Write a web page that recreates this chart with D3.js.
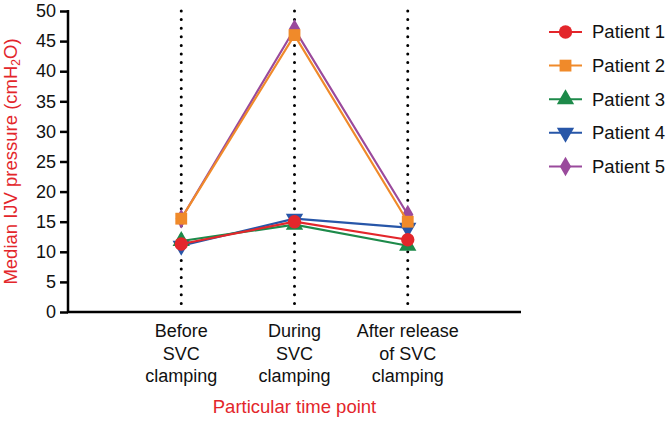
<!DOCTYPE html>
<html>
<head>
<meta charset="utf-8">
<script src="https://cdn.jsdelivr.net/npm/d3@7"></script>
<style>
  body { margin: 0; background: #fff; }
  text { font-family: "Liberation Sans", Arial, sans-serif; }
</style>
</head>
<body>
<div id="chart"></div>
<script>
// time points and series
var timePoints = ["Before\nSVC\nclamping", "During\nSVC\nclamping", "After release\nof SVC\nclamping"];
var patients = ["Patient 1", "Patient 2", "Patient 3", "Patient 4", "Patient 5"];
var patient1 = [11.3, 15.0, 12.0];
var patient2 = [15.5, 46.0, 15.0];
var patient3 = [11.8, 14.5, 11.0];
var patient4 = [11.0, 15.5, 14.0];
var patient5 = [15.5, 47.0, 16.2];
var yTicks = [0, 5, 10, 15, 20, 25, 30, 35, 40, 45, 50];

var seriesValues = [patient1, patient2, patient3, patient4, patient5];
var colors = ["#e3262b", "#f08a2a", "#1d8a4a", "#2756a8", "#9a4a9c"];
var symbols = [d3.symbolCircle, d3.symbolSquare, d3.symbolTriangle, d3.symbolTriangle, d3.symbolDiamond];
var symbolSizes = [140, 140, 130, 130, 110];
var symbolRot = [0, 0, 0, 180, 0];

var width = 668, height = 421;
var margins = { left: 68, right: 147, top: 11, bottom: 109 };

var svg = d3.select("#chart").append("svg")
  .attr("width", width)
  .attr("height", height);

// x: points 1..3 on a 0..4 span
var xScale = d3.scaleLinear().domain([0, 4]).range([margins.left, width - margins.right]);
var yScale = d3.scaleLinear().domain([0, 50]).range([height - margins.bottom, margins.top]);

// dotted verticals
svg.selectAll("line.vdot")
  .data(timePoints)
  .enter()
  .append("line")
  .attr("class", "vdot")
  .attr("x1", function (d, i) { return xScale(i + 1); })
  .attr("x2", function (d, i) { return xScale(i + 1); })
  .attr("y1", yScale(50))
  .attr("y2", yScale(0))
  .attr("stroke", "#000")
  .attr("stroke-width", 3)
  .attr("stroke-linecap", "round")
  .attr("stroke-dasharray", "0 8.6");

// y axis
var yAxis = d3.axisLeft(yScale).tickValues(yTicks).tickSize(8).tickPadding(4);
var gy = svg.append("g")
  .attr("transform", "translate(" + margins.left + ",0)")
  .call(yAxis);
gy.select(".domain").attr("stroke-width", 2.5).attr("d", "M0," + (yScale(50) - 1) + "V" + (yScale(0) + 1));
gy.selectAll(".tick line").attr("stroke-width", 2.5);
gy.selectAll(".tick text").attr("font-size", 18).attr("fill", "#111")
  .style("font-family", "'Liberation Sans', Arial, sans-serif");

// x axis line
svg.append("line")
  .attr("x1", margins.left - 1)
  .attr("x2", xScale(4))
  .attr("y1", yScale(0))
  .attr("y2", yScale(0))
  .attr("stroke", "#000")
  .attr("stroke-width", 2.5);

// x category labels
var xl = svg.selectAll("text.xlab")
  .data(timePoints)
  .enter()
  .append("text")
  .attr("class", "xlab")
  .attr("text-anchor", "middle")
  .attr("font-size", 18)
  .attr("fill", "#111")
  .attr("transform", function (d, i) { return "translate(" + xScale(i + 1) + "," + (yScale(0) + 25) + ")"; });
xl.selectAll("tspan")
  .data(function (d) { return d.split("\n"); })
  .enter()
  .append("tspan")
  .attr("x", 0)
  .attr("y", function (d, i) { return i * 22.5; })
  .text(function (d) { return d; });

// axis titles
svg.append("text")
  .attr("x", (xScale(0) + xScale(4)) / 2)
  .attr("y", 413)
  .attr("text-anchor", "middle")
  .attr("font-size", 18.5)
  .attr("fill", "#e3262b")
  .text("Particular time point");

var yt = svg.append("text")
  .attr("transform", "translate(17," + ((yScale(0) + yScale(50)) / 2) + ") rotate(-90)")
  .attr("text-anchor", "middle")
  .attr("font-size", 18.5)
  .attr("fill", "#e3262b");
yt.append("tspan").text("Median IJV pressure (cmH");
yt.append("tspan").attr("font-size", 12).attr("baseline-shift", "-25%").text("2");
yt.append("tspan").text("O)");

// series, drawn last-to-first so patient 1 sits on top
var order = [4, 3, 2, 1, 0];
var line = d3.line()
  .x(function (d, i) { return xScale(i + 1); })
  .y(function (d) { return yScale(d); });

order.forEach(function (k) {
  var g = svg.append("g");
  g.append("path")
    .attr("d", line(seriesValues[k]))
    .attr("fill", "none")
    .attr("stroke", colors[k])
    .attr("stroke-width", 2.2);
  g.selectAll("path.pt")
    .data(seriesValues[k])
    .enter()
    .append("path")
    .attr("class", "pt")
    .attr("d", d3.symbol().type(symbols[k]).size(symbolSizes[k]))
    .attr("fill", colors[k])
    .attr("transform", function (d, i) {
      return "translate(" + xScale(i + 1) + "," + yScale(d) + ") rotate(" + symbolRot[k] + ")";
    });
});

// legend
var legend = svg.selectAll("g.leg")
  .data(patients)
  .enter()
  .append("g")
  .attr("class", "leg")
  .attr("transform", function (d, i) { return "translate(549," + (32 + i * 33.6) + ")"; });
legend.append("line")
  .attr("x1", 0).attr("x2", 33)
  .attr("stroke", function (d, i) { return colors[i]; })
  .attr("stroke-width", 2);
legend.append("path")
  .attr("d", function (d, i) { return d3.symbol().type(symbols[i]).size(symbolSizes[i])(); })
  .attr("fill", function (d, i) { return colors[i]; })
  .attr("transform", function (d, i) { return "translate(16.5,0) rotate(" + symbolRot[i] + ")"; });
legend.append("text")
  .attr("x", 43)
  .attr("dy", "0.35em")
  .attr("font-size", 18.5)
  .attr("fill", "#111")
  .attr("textLength", null)
  .text(function (d) { return d; });
</script>
</body>
</html>
